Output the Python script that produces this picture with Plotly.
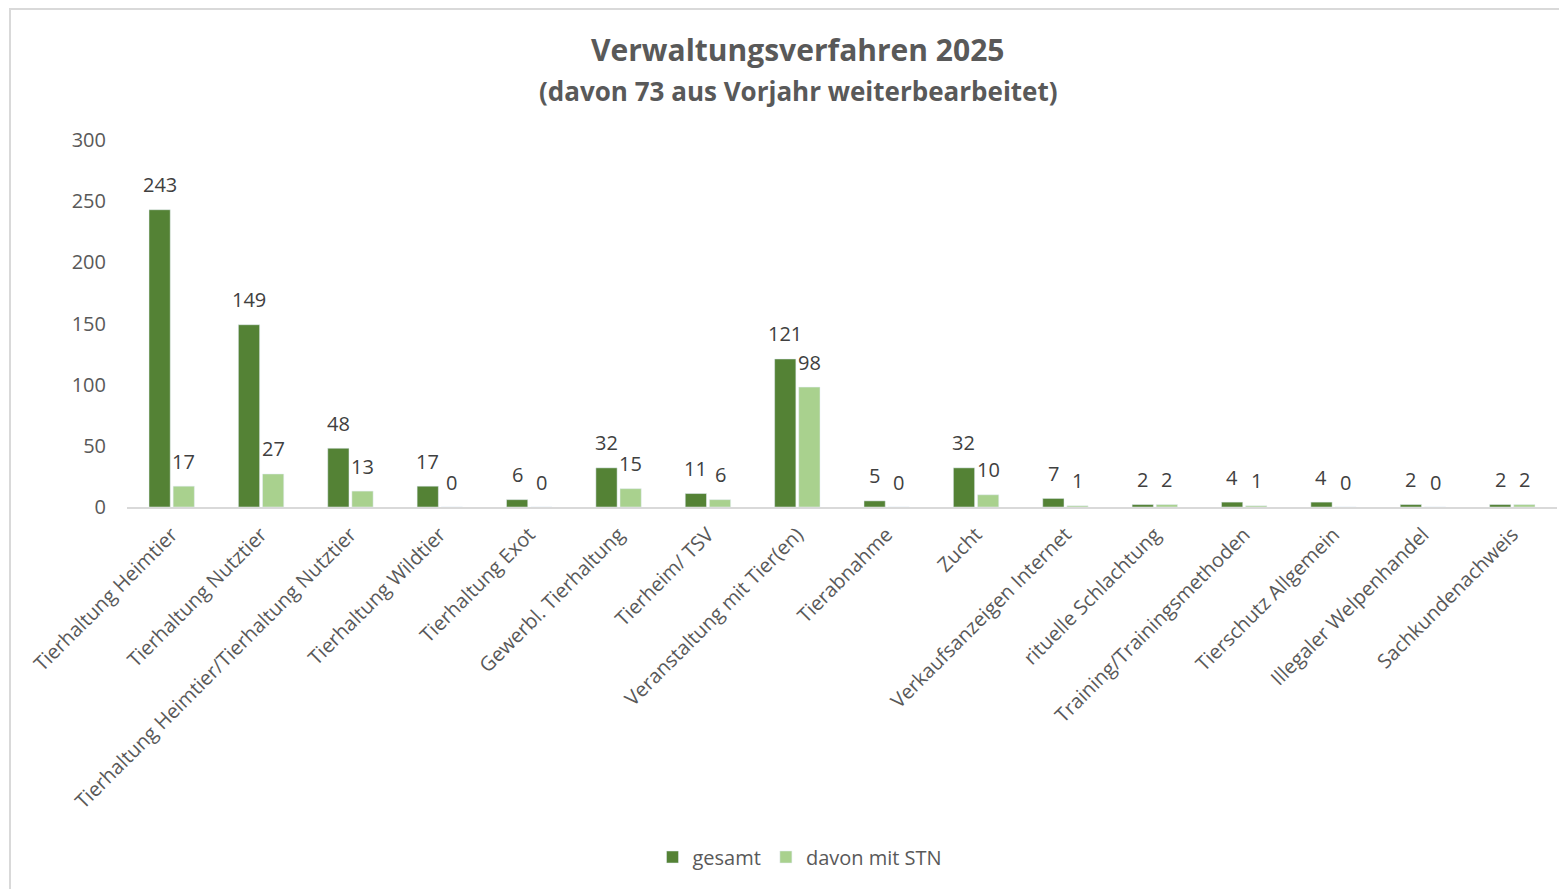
import plotly.graph_objects as go

categories = ["Tierhaltung Heimtier", "Tierhaltung Nutztier", "Tierhaltung Heimtier/Tierhaltung Nutztier",
              "Tierhaltung Wildtier", "Tierhaltung Exot", "Gewerbl. Tierhaltung", "Tierheim/ TSV",
              "Veranstaltung mit Tier(en)", "Tierabnahme", "Zucht", "Verkaufsanzeigen Internet",
              "rituelle Schlachtung", "Training/Trainingsmethoden", "Tierschutz Allgemein",
              "Illegaler Welpenhandel", "Sachkundenachweis"]
gesamt = [243, 149, 48, 17, 6, 32, 11, 121, 5, 32, 7, 2, 4, 4, 2, 2]
davon_mit_stn = [17, 27, 13, 0, 0, 15, 6, 98, 0, 10, 1, 2, 1, 0, 0, 2]
y_ticks = [0, 50, 100, 150, 200, 250, 300]

FONT = "'Open Sans', sans-serif"
TXT = "#595959"
LBL = "#404040"

fig = go.Figure()
fig.add_trace(go.Bar(name="gesamt", x=categories, y=gesamt, marker_color="#548235"))
fig.add_trace(go.Bar(name="davon mit STN", x=categories, y=davon_mit_stn, marker_color="#A9D18E"))

# the page body has an 8px margin, so the figure starts at (8, 8) on screen
OFF = 8
W, H = 1567 - OFF, 889 - OFF
L, R, T, B = 127 - OFF, 10, 140 - OFF, 382
ph = H - T - B
pw = W - L - R
BARGAP, GROUPGAP = 0.46, 0.12

def px_x(sx):
    return (sx - 127) / pw

def px_y(sy):
    return (507 - sy) / ph

# data labels, placed on the bars' own category/value coordinates
cat_w = pw / len(categories)
slot = cat_w * (1 - BARGAP) / 2
annotations = []
for series, shift in ((gesamt, -slot / 2), (davon_mit_stn, slot / 2)):
    for c, v in zip(categories, series):
        annotations.append(dict(x=c, y=v, xref="x", yref="y", text=str(v), showarrow=False,
                                xshift=shift, yshift=25, xanchor="center", yanchor="middle",
                                font=dict(size=20, color=LBL, family=FONT)))

annotations += [
    dict(text="<b>Verwaltungsverfahren 2025</b>", xref="paper", yref="paper",
         x=px_x(797), y=px_y(50), xanchor="center", yanchor="middle",
         showarrow=False, font=dict(size=30, color=TXT, family=FONT)),
    dict(text="<b>(davon 73 aus Vorjahr weiterbearbeitet)</b>", xref="paper", yref="paper",
         x=px_x(798), y=px_y(91), xanchor="center", yanchor="middle",
         showarrow=False, font=dict(size=26, color=TXT, family=FONT)),
]

fig.update_layout(
    width=W, height=H,
    margin=dict(l=L, r=R, t=T, b=B),
    paper_bgcolor="white", plot_bgcolor="white",
    barmode="group", bargap=BARGAP, bargroupgap=GROUPGAP,
    font=dict(family=FONT, color=TXT, size=20),
    showlegend=True,
    legend=dict(orientation="h", x=px_x(800), xanchor="center",
                y=px_y(857), yanchor="middle",
                font=dict(size=20, color=TXT, family=FONT), itemwidth=30),
    xaxis=dict(tickangle=-45, showline=True, linecolor="#D9D9D9", linewidth=2,
               ticks="", tickfont=dict(size=20, color=TXT, family=FONT),
               ticklabelstandoff=6),
    yaxis=dict(range=[0, 300], tickvals=y_ticks, showgrid=False, zeroline=False,
               showline=False, tickfont=dict(size=20, color=TXT, family=FONT),
               ticklabelstandoff=20),
    annotations=annotations,
    shapes=[
        dict(type="rect", xref="paper", yref="paper",
             x0=px_x(10), x1=1.2, y0=-1.5, y1=px_y(9),
             line=dict(color="#D9D9D9", width=2), fillcolor="rgba(0,0,0,0)", layer="below"),
    ],
)

fig.write_html("out.html")
